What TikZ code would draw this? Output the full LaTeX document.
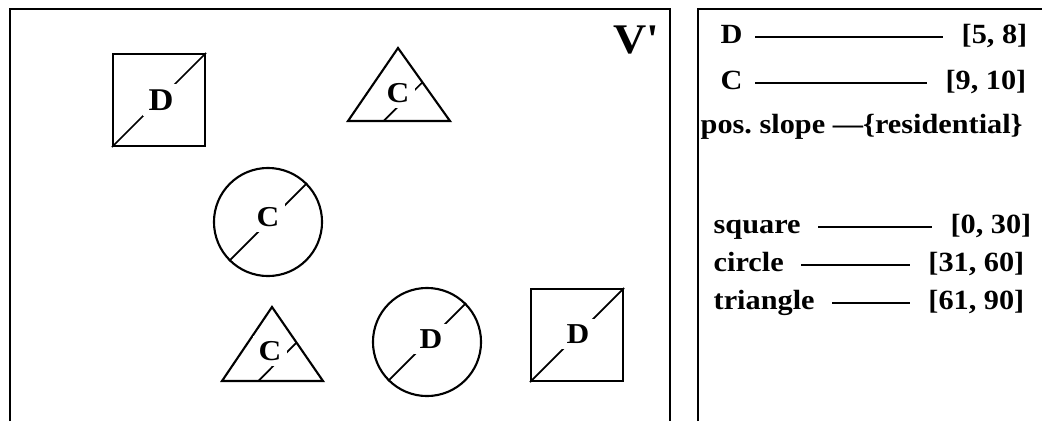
\documentclass[tikz,border=0pt]{standalone}
\usepackage{fontspec}
\setmainfont{Liberation Serif}[FakeStretch=1.09]
\usetikzlibrary{calc}

\begin{document}
\begin{tikzpicture}[x=0.01cm, y=-0.01cm, font=\bfseries\fontsize{7.9}{9}\selectfont,
  panel/.style={line width=0.7pt},
  sq/.style={draw, line width=0.6pt, minimum size=0.92cm, inner sep=0pt},
  rnd/.style={draw, circle, line width=0.6pt, minimum size=1.08cm, inner sep=0pt},
  tri/.style={line width=0.6pt, line join=miter},
  diag/.style={line width=0.5pt},
  tag/.style={fill=white, inner sep=1.5pt, font=\bfseries\fontsize{8.2}{9}\selectfont},
  key/.style={anchor=base west, inner sep=0pt, text height=0.16cm, text depth=0.04cm},
  val/.style={anchor=base east, inner sep=0pt, text height=0.16cm, text depth=0.04cm},
  bar/.style={line width=0.6pt, shorten <=0.17cm, shorten >=0.18cm}]
\useasboundingbox (0,0) rectangle (1042,421);
% frames
\draw[panel] (10,421) -- (10,9) -- (670,9) -- (670,421);
\draw[panel] (698,421) -- (698,9) -- (1042,9);
\node[font=\bfseries\fontsize{12}{14}\selectfont] (vp) at (636,40) {V\textquotesingle};
% squares
\node[sq] (sq1) at (159,100) {};
\draw[diag] (sq1.south west) -- (sq1.north east);
\node[tag, font=\bfseries\fontsize{9}{10}\selectfont] (d1) at (161,100) {D};
\node[sq] (sq2) at (577,335) {};
\draw[diag] (sq2.south west) -- (sq2.north east);
\node[tag] (d2) at (578,334) {D};
% circles
\node[rnd] (ci1) at (268,222) {};
\draw[diag] (ci1.225) -- (ci1.45);
\node[tag] (c2) at (268,217) {C};
\node[rnd] (ci2) at (427,342) {};
\draw[diag] (ci2.225) -- (ci2.45);
\node[tag] (d3) at (431,339) {D};
% triangles
\coordinate (t1a) at (398,48);
\coordinate (t1l) at (348,121);
\coordinate (t1r) at (450,121);
\draw[tri] (t1l) -- (t1a) -- (t1r) -- cycle;
\draw[diag] ($(t1l)!0.35!(t1r)$) -- ($(t1a)!0.47!(t1r)$);
\node[tag] (c1) at (398,93) {C};
\coordinate (t2a) at (272,307);
\coordinate (t2l) at (222,381);
\coordinate (t2r) at (323,381);
\draw[tri] (t2l) -- (t2a) -- (t2r) -- cycle;
\draw[diag] ($(t2l)!0.36!(t2r)$) -- ($(t2a)!0.48!(t2r)$);
\node[tag] (c3) at (270,351) {C};
% key
\node[key] (kD) at (720,43) {D};
\node[val] (vD) at (1028,43) {[5, 8]};
\draw[bar, shorten <=0.12cm] (kD) -- (vD);
\node[key] (kC) at (720,89) {C};
\node[val] (vC) at (1027,89) {[9, 10]};
\draw[bar, shorten <=0.12cm] (kC) -- (vC);
\node[key] (slope) at (700,133) {pos.\ slope ---\{residential\}};
\node[key] (ksq) at (713,233) {square};
\node[val] (vsq) at (1032,233) {[0, 30]};
\draw[bar] (ksq) -- (vsq);
\node[key] (kci) at (713,271) {circle};
\node[val] (vci) at (1025,271) {[31, 60]};
\draw[bar] (kci) -- (vci);
\node[key] (ktr) at (713,309) {triangle};
\node[val] (vtr) at (1025,309) {[61, 90]};
\draw[bar] (ktr) -- (vtr);
\end{tikzpicture}
\end{document}
